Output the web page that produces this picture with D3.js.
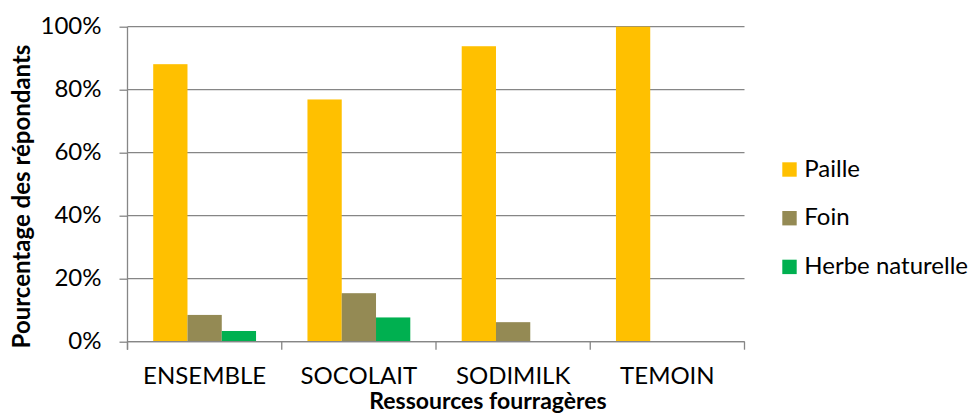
<!DOCTYPE html>
<html>
<head>
<meta charset="utf-8">
<script src="https://cdn.jsdelivr.net/npm/d3@7"></script>
<style>
  html, body { margin: 0; padding: 0; background: #fff; }
  svg { display: block; font-family: Lato, "Open Sans", sans-serif; }
</style>
</head>
<body>
<svg id="chart" width="976" height="414"></svg>
<script>
// Categories and series (share of respondents, %)
const categories = ["ENSEMBLE", "SOCOLAIT", "SODIMILK", "TEMOIN"];
const seriesNames = ["Paille", "Foin", "Herbe naturelle"];
const paille = [88.1, 76.9, 93.8, 100];
const foin = [8.5, 15.4, 6.2, 0];
const herbe = [3.4, 7.7, 0, 0];
const yTicks = [0, 20, 40, 60, 80, 100];
const colors = ["#FFC000", "#948A54", "#00B050"];

const seriesValues = [paille, foin, herbe];
const rows = categories.map((c, i) => ({
  cat: c,
  vals: seriesNames.map((s, j) => ({ key: s, value: seriesValues[j][i] }))
}));

const svg = d3.select("#chart");
const plot = { left: 127.5, right: 744.5, top: 26.7, bottom: 341.7 };
const fontSize = "24px";
const gridColor = "#868686";

const x = d3.scaleBand().domain(categories).range([plot.left, plot.right]).paddingInner(0).paddingOuter(0);
const xInner = d3.scaleBand().domain(seriesNames).range([0, x.bandwidth()]).paddingInner(0).paddingOuter(0.75);
const y = d3.scaleLinear().domain([0, 100]).range([plot.bottom, plot.top]);

// Value axis: short ticks left of the axis and percentage labels
svg.append("g")
  .attr("transform", `translate(${plot.left},0)`)
  .call(d3.axisLeft(y).tickValues(yTicks).tickSize(8).tickFormat(d => d + "%").tickPadding(18))
  .call(g => g.select(".domain").remove())
  .call(g => g.selectAll(".tick line").attr("stroke", gridColor).attr("stroke-width", 1.3))
  .call(g => g.selectAll(".tick text").attr("fill", "#000").attr("dy", "0.3em")
    .style("font-size", fontSize).style("font-family", "Lato"));

// Horizontal gridlines
svg.append("g")
  .selectAll("line")
  .data(yTicks)
  .join("line")
  .attr("x1", plot.left).attr("x2", plot.right)
  .attr("y1", d => y(d)).attr("y2", d => y(d))
  .attr("stroke", gridColor).attr("stroke-width", 1.3);

// Bars
const groups = svg.append("g").selectAll("g")
  .data(rows)
  .join("g")
  .attr("transform", d => `translate(${x(d.cat)},0)`);

groups.selectAll("rect")
  .data(d => d.vals)
  .join("rect")
  .attr("x", d => xInner(d.key))
  .attr("width", xInner.bandwidth())
  .attr("y", d => y(d.value))
  .attr("height", d => plot.bottom - y(d.value))
  .attr("fill", (d, i) => colors[i]);

// Vertical axis line
svg.append("line")
  .attr("x1", plot.left).attr("x2", plot.left)
  .attr("y1", plot.top).attr("y2", plot.bottom + 8)
  .attr("stroke", gridColor).attr("stroke-width", 1.3);

// Category axis
svg.append("g")
  .attr("transform", `translate(0,${plot.bottom})`)
  .call(d3.axisBottom(x).tickSize(0).tickPadding(25))
  .call(g => g.select(".domain").attr("stroke", gridColor).attr("stroke-width", 1.3).attr("d", `M${plot.left},0H${plot.right}`))
  .call(g => g.selectAll(".tick text").attr("fill", "#000").attr("dy", "0.71em")
    .style("font-size", fontSize).style("font-family", "Lato"));

// Category boundary ticks
const boundaries = categories.map(c => x(c)).concat([plot.right]);
svg.append("g").selectAll("line")
  .data(boundaries)
  .join("line")
  .attr("x1", d => d).attr("x2", d => d)
  .attr("y1", plot.bottom).attr("y2", plot.bottom + 8)
  .attr("stroke", gridColor).attr("stroke-width", 1.3);

// Axis titles
svg.append("text")
  .attr("x", 488).attr("y", 409)
  .attr("text-anchor", "middle")
  .style("font-weight", "bold").style("font-size", "23px")
  .text("Ressources fourragères");

svg.append("text")
  .attr("transform", `translate(30,196.5) rotate(-90)`)
  .attr("text-anchor", "middle")
  .style("font-weight", "bold").style("font-size", fontSize)
  .text("Pourcentage des répondants");

// Legend
const legend = svg.append("g").selectAll("g")
  .data(seriesNames)
  .join("g")
  .attr("transform", (d, i) => `translate(782.3,${162.3 + i * 48.7})`);
legend.append("rect").attr("width", 14.4).attr("height", 14.4).attr("fill", (d, i) => colors[i]);
legend.append("text").attr("x", 22).attr("y", 14.4).style("font-size", fontSize).text(d => d);
</script>
</body>
</html>
